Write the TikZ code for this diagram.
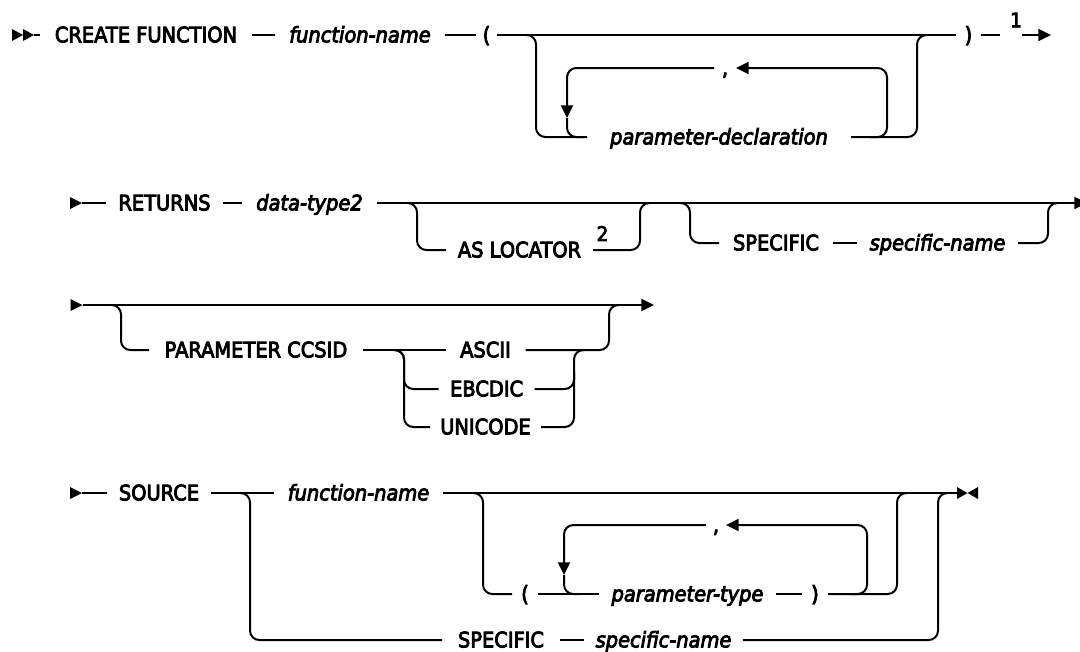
\documentclass[tikz,border=0pt]{standalone}
\usepackage{fontspec}
\setmainfont{DejaVu Sans}[FakeBold=4, FakeStretch=0.91]
\usetikzlibrary{arrows.meta}
\newdimen\pxu \pxu=0.75pt
\begin{document}
\begin{tikzpicture}[x=0.75pt,y=-0.75pt,
  line width=1.5pt,
  rail/.style={draw, line width=1.5pt, rounded corners=7pt},
  tok/.style={inner sep=0pt, text height=11pt, text depth=0pt, font=\fontsize{16}{18}\selectfont},
  kw/.style={tok},
  var/.style={tok, font=\fontsize{16}{18}\selectfont\itshape},
  w/.style={minimum width=#1\pxu},
  note/.style={inner sep=0pt, font=\fontsize{15}{17}\selectfont},
  tipL/.style={-{Triangle[length=9.5pt,width=9pt]}},
]
\useasboundingbox (0,0) rectangle (1080,651);
\clip (0,0) rectangle (1080,651);

% ---------------- Row 1 ----------------
\coordinate (s1) at (12,35);
\coordinate (s1e) at (34,35);
\fill (s1) ++(0,-6) -- ++(11,6) -- ++(-11,6) -- cycle;
\fill (s1) ++(11,-6) -- ++(11,6) -- ++(-11,6) -- cycle;
\node[kw, w=210] (cf) at (146,35) {CREATE FUNCTION};
\node[var, w=168] (fn1) at (360,35) {function-name};
\node[kw, w=19] (lp1) at (486.5,35) {(};
\node[var, w=262] (pd) at (719,137) {parameter-declaration};
\node[kw, w=23] (rp1) at (968.5,35) {)};
\node[kw, w=20] (cm1) at (725,68) {,};
\node[note] (n1) at (1016,20) {1};
\coordinate (e1a) at (1000,35);
\coordinate (e1b) at (1022,35);
\coordinate (e1c) at (1051,35);
\draw (s1e) -- (cf);
\draw (cf) -- (fn1);
\draw (fn1) -- (lp1);
\draw (lp1) -- (rp1);
\draw (rp1) -- (e1a);
\draw[tipL] (e1b) -- (e1c);
\coordinate (b1a) at (526,35);
\coordinate (b1b) at (536,137);
\coordinate (b1c) at (917,35);
\coordinate (b1d) at (927,35);
\draw[rail] (b1a) -| (b1b) -- (pd);
\draw[rail] (pd.east) -| (b1c) -- (b1d);
\coordinate (l1a) at (870,137);
\coordinate (l1b) at (887,137);
\coordinate (l1c) at (887,68);
\coordinate (l1d) at (567,68);
\coordinate (l1e) at (567,118);
\coordinate (l1f) at (567,137);
\coordinate (l1g) at (584,137);
\draw[rail, tipL] (l1a) -- (l1b) -- (l1c) -- (cm1);
\draw[rail, tipL] (cm1) -- (l1d) -- (l1e);
\draw[rail] (l1e) -- (l1f) -- (l1g);

% ---------------- Row 2 ----------------
\coordinate (s2) at (70,203);
\coordinate (s2e) at (82,203);
\fill (s2) ++(0,-6) -- ++(12,6) -- ++(-12,6) -- cycle;
\node[kw, w=115] (ret) at (164.5,203) {RETURNS};
\node[var, w=133] (dt) at (309.5,203) {data-type2};
\coordinate (e2) at (1087,203);
\draw (s2e) -- (ret);
\draw (ret) -- (dt);
\draw[tipL] (dt) -- (e2);
\coordinate (a2a) at (407,203);
\coordinate (a2b) at (417,250);
\node[kw, w=145] (asl) at (519.5,250) {AS LOCATOR};
\node[note] (n2) at (602.5,233.5) {2};
\coordinate (a2c) at (640,203);
\coordinate (a2d) at (650,203);
\draw[rail] (a2a) -| (a2b) -- (asl);
\draw[rail] (asl.east) -| (a2c) -- (a2d);
\coordinate (p2a) at (680,203);
\coordinate (p2b) at (690,243);
\node[kw, w=112] (sp2) at (776,243) {SPECIFIC};
\node[var, w=159] (sn2) at (937.5,243) {specific-name};
\coordinate (p2c) at (1048,203);
\coordinate (p2d) at (1058,203);
\draw[rail] (p2a) -| (p2b) -- (sp2);
\draw (sp2) -- (sn2);
\draw[rail] (sn2.east) -| (p2c) -- (p2d);

% ---------------- Row 3 ----------------
\coordinate (s3) at (70.5,305);
\coordinate (s3e) at (82.5,305);
\fill (s3) ++(0,-6) -- ++(12,6) -- ++(-12,6) -- cycle;
\coordinate (e3) at (654,305);
\draw[tipL] (s3e) -- (e3);
\coordinate (c3a) at (111,305);
\coordinate (c3b) at (121,350);
\node[kw, w=212] (pc) at (256,350) {PARAMETER CCSID};
\node[kw, w=78] (asc) at (485.5,350) {ASCII};
\node[kw, w=94] (ebc) at (486.6,389) {EBCDIC};
\node[kw, w=109] (uni) at (485.5,427) {UNICODE};
\draw[rail] (c3a) -| (c3b) -- (pc);
\draw (pc) -- (asc);
\coordinate (i3a) at (394,350);
\coordinate (i3b) at (404,427);
\coordinate (i3c) at (404,389);
\draw[rail] (i3a) -| (i3b) -- (uni);
\draw[rail] (i3a) -| (i3c) -- (ebc);
\coordinate (j3a) at (574,427);
\coordinate (j3b) at (574,350);
\coordinate (j3c) at (584,350);
\coordinate (j3d) at (574,389);
\coordinate (j3e) at (574,372);
\draw[rail] (uni.east) -- (j3a) -- (j3b) -- (j3c);
\draw[rail] (ebc.east) -- (j3d) -- (j3e);
\coordinate (o3a) at (609,305);
\coordinate (o3b) at (619,305);
\draw[rail] (asc.east) -| (o3a) -- (o3b);

% ---------------- Row 4 ----------------
\coordinate (s4) at (70,493);
\coordinate (s4e) at (82,493);
\fill (s4) ++(0,-6) -- ++(12,6) -- ++(-12,6) -- cycle;
\node[kw, w=102] (src) at (159,493) {SOURCE};
\node[var, w=167] (fn4) at (358.5,493) {function-name};
\coordinate (e4) at (957,493);
\draw (s4e) -- (src);
\draw (src) -- (fn4);
\draw (fn4) -- (e4);
\fill (e4) ++(0,-6) -- ++(10.5,6) -- ++(-10.5,6) -- cycle;
\fill (e4) ++(21,-6) -- ++(-10.5,6) -- ++(10.5,6) -- cycle;
\coordinate (q4a) at (240,493);
\coordinate (q4b) at (250,640);
\node[kw, w=116] (sp4) at (501,640) {SPECIFIC};
\node[var, w=157] (sn4) at (663.5,640) {specific-name};
\coordinate (q4c) at (938,493);
\coordinate (q4d) at (948,493);
\draw[rail] (q4a) -| (q4b) -- (sp4);
\draw (sp4) -- (sn4);
\draw[rail] (sn4.east) -| (q4c) -- (q4d);
\coordinate (r4a) at (473,493);
\coordinate (r4b) at (483,594);
\node[kw, w=24] (lp4) at (525,594) {(};
\node[var, w=175] (pt) at (687.5,594) {parameter-type};
\node[kw, w=24] (rp4) at (815,594) {)};
\coordinate (r4c) at (897,493);
\coordinate (r4d) at (907,493);
\draw[rail] (r4a) -| (r4b) -- (lp4);
\draw (lp4) -- (pt);
\draw (pt) -- (rp4);
\draw[rail] (rp4.east) -| (r4c) -- (r4d);
\node[kw, w=18] (cm4) at (716,525) {,};
\coordinate (l4a) at (850,594);
\coordinate (l4b) at (867,594);
\coordinate (l4c) at (867,525);
\coordinate (l4d) at (564,525);
\coordinate (l4e) at (564,575);
\coordinate (l4f) at (564,594);
\coordinate (l4g) at (580,594);
\draw[rail, tipL] (l4a) -- (l4b) -- (l4c) -- (cm4);
\draw[rail, tipL] (cm4) -- (l4d) -- (l4e);
\draw[rail] (l4e) -- (l4f) -- (l4g);
\end{tikzpicture}
\end{document}
